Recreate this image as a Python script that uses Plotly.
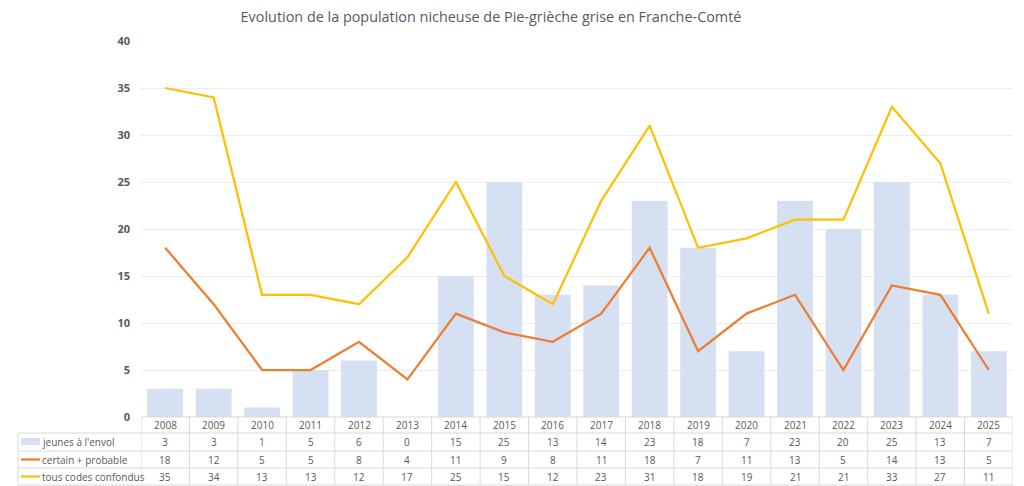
import plotly.graph_objects as go

# ---------------------------------------------------------------------------
# Données
# ---------------------------------------------------------------------------
YEARS = [str(y) for y in range(2008, 2026)]
JEUNES = [3, 3, 1, 5, 6, 0, 15, 25, 13, 14, 23, 18, 7, 23, 20, 25, 13, 7]
CERTAIN = [18, 12, 5, 5, 8, 4, 11, 9, 8, 11, 18, 7, 11, 13, 5, 14, 13, 5]
TOUS = [35, 34, 13, 13, 12, 17, 25, 15, 12, 23, 31, 18, 19, 21, 21, 33, 27, 11]
SERIES_NAMES = ["jeunes à l'envol", "certain + probable", "tous codes confondus"]

TITLE = "Evolution de la population nicheuse de Pie-grièche grise en Franche-Comté"

BLUE = "#D6E0F3"
ORANGE = "#ED7D31"
YELLOW = "#FFC000"
GRID = "#EDEDED"
TABLE = "#D9D9D9"
TEXT = "#595959"

# La page a une marge de 8 px : on décale tout en conséquence
OFF = 8
W, H = 1024 - OFF, 486 - OFF
ML, MR, MT, MB = 141 - OFF, 11, 41 - OFF, 69
PLOT_W = W - ML - MR
PLOT_H = H - MT - MB


def py(ywin):
    """Pixel vertical (fenêtre) -> coordonnée paper."""
    return (OFF + H - MB - ywin) / PLOT_H


def px(xwin):
    """Pixel horizontal (fenêtre) -> coordonnée paper."""
    return (xwin - OFF - ML) / PLOT_W


fig = go.Figure()

fig.add_trace(go.Bar(
    x=YEARS, y=JEUNES, name=SERIES_NAMES[0],
    marker=dict(color=BLUE, line=dict(width=0)),
    width=0.74,
))
fig.add_trace(go.Scatter(
    x=YEARS, y=CERTAIN, name=SERIES_NAMES[1], mode="lines",
    line=dict(color=ORANGE, width=2.25),
))
fig.add_trace(go.Scatter(
    x=YEARS, y=TOUS, name=SERIES_NAMES[2], mode="lines",
    line=dict(color=YELLOW, width=2.25),
))

# Tableau de données sous le graphique
row_lines = [417, 433, 451, 468, 485]
row_centers = [442, 459.5, 476.5]
shapes = []
annotations = []

# lignes horizontales
shapes.append(dict(type="line", xref="paper", yref="paper", x0=0, x1=1,
                   y0=py(row_lines[0]), y1=py(row_lines[0]),
                   line=dict(color=TABLE, width=1)))
for yl in row_lines[1:]:
    shapes.append(dict(type="line", xref="paper", yref="paper", x0=px(18), x1=1,
                       y0=py(yl), y1=py(yl), line=dict(color=TABLE, width=1)))

# lignes verticales
for i in range(len(YEARS) + 1):
    shapes.append(dict(type="line", xref="x", yref="paper", x0=i - 0.5, x1=i - 0.5,
                       y0=py(row_lines[0]), y1=py(row_lines[-1]),
                       line=dict(color=TABLE, width=1)))
shapes.append(dict(type="line", xref="paper", yref="paper", x0=px(18), x1=px(18),
                   y0=py(row_lines[1]), y1=py(row_lines[-1]),
                   line=dict(color=TABLE, width=1)))

# en-tête : années
for i, year in enumerate(YEARS):
    annotations.append(dict(x=i, y=py(425), xref="x", yref="paper", text=year,
                            xanchor="center", yanchor="middle",
                            showarrow=False, font=dict(size=10, color=TEXT)))

# valeurs
for values, yc in zip([JEUNES, CERTAIN, TOUS], row_centers):
    for i, v in enumerate(values):
        annotations.append(dict(x=i, y=py(yc), xref="x", yref="paper", text=str(v),
                                xanchor="center", yanchor="middle",
                                showarrow=False, font=dict(size=10, color=TEXT)))

# légende intégrée au tableau
for name, yc in zip(SERIES_NAMES, row_centers):
    annotations.append(dict(x=px(40), y=py(yc), xref="paper", yref="paper", text=name,
                            xanchor="left", yanchor="middle", showarrow=False,
                            font=dict(size=10, color=TEXT)))
shapes.append(dict(type="rect", xref="paper", yref="paper", x0=px(21), x1=px(40),
                   y0=py(445), y1=py(438), fillcolor=BLUE, line=dict(width=0)))
shapes.append(dict(type="line", xref="paper", yref="paper", x0=px(21), x1=px(40),
                   y0=py(row_centers[1]), y1=py(row_centers[1]),
                   line=dict(color=ORANGE, width=2.25)))
shapes.append(dict(type="line", xref="paper", yref="paper", x0=px(21), x1=px(40),
                   y0=py(row_centers[2]), y1=py(row_centers[2]),
                   line=dict(color=YELLOW, width=2.25)))

fig.update_layout(
    title=dict(
        text=TITLE,
        font=dict(family="Open Sans, sans-serif", size=14.4, color=TEXT),
        x=px(491), xanchor="center", y=1 - (17 - OFF) / H, yanchor="middle",
        xref="paper",
    ),
    xaxis=dict(
        type="category", range=[-0.5, len(YEARS) - 0.5],
        showticklabels=False, showgrid=False, zeroline=False, showline=False,
        fixedrange=True,
    ),
    yaxis=dict(
        range=[0, 40], dtick=5, showgrid=True, gridcolor=GRID, gridwidth=1,
        zeroline=False, showline=False, ticks="",
        tickfont=dict(family="Open Sans, sans-serif", size=11, color=TEXT,
                      weight="bold"),
        ticklabelstandoff=10,
    ),
    shapes=shapes,
    annotations=annotations,
    showlegend=False,
    bargap=0.26,
    font=dict(family="Open Sans, sans-serif", color=TEXT),
    plot_bgcolor="white", paper_bgcolor="white",
    width=W, height=H,
    margin=dict(l=ML, r=MR, t=MT, b=MB),
)

fig.write_html("out.html")
